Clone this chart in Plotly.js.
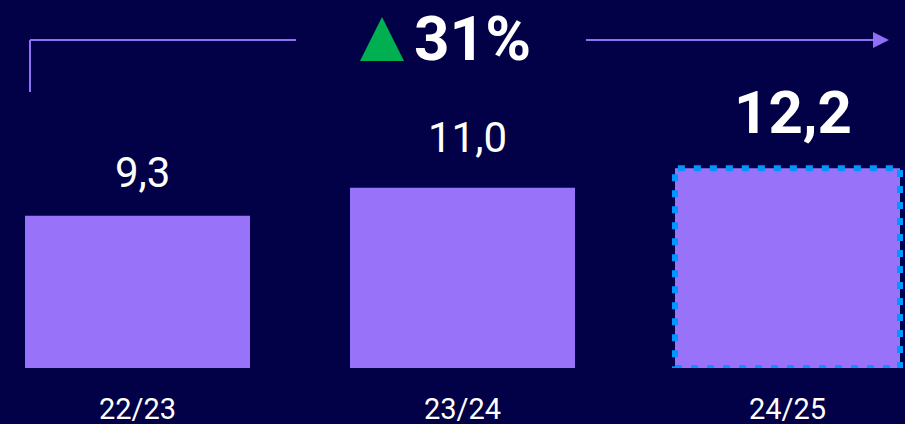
<!DOCTYPE html>
<html>
<head>
<meta charset="utf-8">
<script src="https://cdn.plot.ly/plotly-3.0.1.min.js"></script>
<style>html,body{margin:0;padding:0;background:#020046;}#chart{width:905px;height:424px;}</style>
</head>
<body>
<div id="chart"></div>
<script>
// ---- data ----
const seasons = ["22/23", "23/24", "24/25"];
const values = [9.3, 11.0, 12.2];
const valueLabels = ["9,3", "11,0", "12,2"];
const growthLabel = "31%";

// ---- style ----
const W = 905, H = 424, PLOT_H = 368;
const BG = "#020046", BAR = "#9873fa", DASH = "#0097ff", LINE = "#8f6ff5", GREEN = "#00b050";
const barWidth = 0.6923;
const px = x => x / W;
const py = y => 1 - y / PLOT_H;

const trace = {
  type: "bar",
  x: seasons.map((_, i) => i),
  y: values,
  width: barWidth,
  marker: { color: BAR, line: { width: 0 } },
  hoverinfo: "none"
};

const highlight = seasons.length - 1;
const labelStyle = values.map((_, i) => i === highlight
  ? { size: 60, weight: "bold", shift: 56 }
  : { size: 42, weight: "normal", shift: i === 0 ? 43 : 50 });

const annotations = values.map((v, i) => ({
  x: i, y: v, xref: "x", yref: "y",
  text: valueLabels[i], showarrow: false,
  xanchor: "center", yanchor: "middle",
  xshift: 5, yshift: labelStyle[i].shift,
  font: { family: "Roboto, Arial, sans-serif", size: labelStyle[i].size, color: "#ffffff", weight: labelStyle[i].weight }
}));
annotations.push({
  x: px(473), y: py(38), xref: "paper", yref: "paper",
  text: "<b>" + growthLabel + "</b>", showarrow: false,
  xanchor: "center", yanchor: "middle",
  font: { family: "Roboto, Arial, sans-serif", size: 62, color: "#ffffff" }
});

const shapes = [
  // dashed outline of highlighted bar
  { type: "rect", xref: "x", yref: "y",
    x0: highlight - barWidth / 2, x1: highlight + barWidth / 2, y0: 0, y1: values[highlight],
    line: { color: DASH, width: 6, dash: "7px,9px" }, fillcolor: "rgba(0,0,0,0)", layer: "above" },
  // left bracket
  { type: "line", xref: "paper", yref: "paper", x0: px(30), y0: py(92), x1: px(30), y1: py(40), line: { color: LINE, width: 2 } },
  { type: "line", xref: "paper", yref: "paper", x0: px(30), y0: py(40), x1: px(296), y1: py(40), line: { color: LINE, width: 2 } },
  // right arrow
  { type: "line", xref: "paper", yref: "paper", x0: px(586), y0: py(40), x1: px(876), y1: py(40), line: { color: LINE, width: 2 } },
  { type: "path", xref: "paper", yref: "paper",
    path: `M ${px(873)},${py(32)} L ${px(889)},${py(40)} L ${px(873)},${py(48)} Z`,
    fillcolor: LINE, line: { width: 0 } },
  // green up triangle
  { type: "path", xref: "paper", yref: "paper",
    path: `M ${px(360)},${py(61)} L ${px(382)},${py(17)} L ${px(404)},${py(61)} Z`,
    fillcolor: GREEN, line: { width: 0 } }
];

const layout = {
  width: W, height: H,
  margin: { l: 0, r: 0, t: 0, b: H - PLOT_H, pad: 0 },
  paper_bgcolor: BG, plot_bgcolor: BG,
  showlegend: false,
  xaxis: {
    range: [-0.4231, 2.3615], tickmode: "array",
    tickvals: seasons.map((_, i) => i), ticktext: seasons,
    showgrid: false, zeroline: false, showline: false, ticks: "",
    ticklabelstandoff: 21,
    tickfont: { family: "Roboto, Arial, sans-serif", size: 29, color: "#ffffff" },
    fixedrange: true
  },
  yaxis: {
    range: [0, PLOT_H / 16.38], visible: false, showgrid: false, zeroline: false, fixedrange: true
  },
  annotations: annotations,
  shapes: shapes
};

Plotly.newPlot("chart", [trace], layout, { displayModeBar: false, staticPlot: true });
</script>
</body>
</html>
